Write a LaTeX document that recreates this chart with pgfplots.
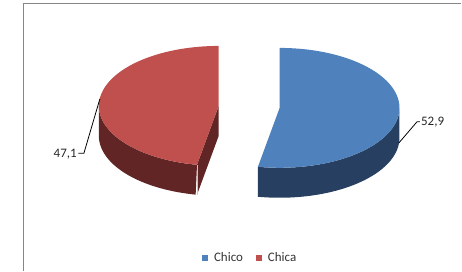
\documentclass[border=0pt]{standalone}
\usepackage{fontspec}
\setmainfont{Carlito}
\usepackage{pgfplots}
\usepackage{pgfplotstable}
\pgfplotsset{compat=1.18}
\definecolor{blueTop}{RGB}{79,129,189}
\definecolor{blueSide}{RGB}{39,64,97}
\definecolor{redTop}{RGB}{192,80,77}
\definecolor{redSide}{RGB}{96,37,36}
\definecolor{frameGray}{RGB}{134,134,134}
\pgfplotstableread{
label value
Chico 52.9
Chica 47.1
}\piedata
\begin{document}
\begin{tikzpicture}
\pgfplotstablegetelem{0}{value}\of\piedata
\let\vA\pgfplotsretval
\pgfplotstablegetelem{1}{value}\of\piedata
\let\vB\pgfplotsretval
\pgfmathsetmacro\endA{90-3.6*\vA}
\pgfmathsetmacro\endB{90+3.6*\vB}
\pgfmathsetmacro\LA{0-\endA}
\pgfmathsetmacro\LB{\endB-180}
\pgfmathsetmacro\rex{219+120*cos(\endB)}
\pgfmathsetmacro\rey{106-60*sin(\endB)}
\pgfmathsetmacro\reyb{\rey+30}
\begin{axis}[
  scale only axis, width=462bp, height=271bp,
  xmin=0, xmax=462, ymin=0, ymax=271, y dir=reverse,
  hide axis, clip=false,
  legend columns=2,
  legend style={draw=none, fill=none, at={(axis cs:250.5,258)}, anchor=center,
    font=\fontsize{13bp}{15bp}\selectfont, text=black!80,
    /tikz/every odd column/.append style={column sep=4bp},
    /tikz/every even column/.append style={column sep=11bp}},
  legend image code/.code={\fill[#1] (0bp,-3bp) rectangle (6bp,3bp);},
]
\addplot[draw=none, forget plot] coordinates {(0,0) (462,271)};
% frame
\addplot[draw=frameGray, line width=1.2bp, forget plot] coordinates {(23.5,271) (23.5,3.5) (462,3.5)};
% blue side
\addplot[fill=blueSide, draw=none, forget plot, domain=0:2*\LA, samples=241, variable=\t]
  ({280+120*cos(\endA+min(\t,2*\LA-\t))}, {108-60*sin(\endA+min(\t,2*\LA-\t))+30*(\t>\LA)});
% blue top
\addplot[fill=blueTop, draw=none, domain=\endA:90, samples=181]
  ({280+120*cos(x)}, {108-60*sin(x)}) -- (280,108) -- cycle;
\addlegendentry{Chico}
% red cut face
\addplot[fill=redSide, draw=none, forget plot] coordinates {(219,106) (\rex,\rey) (\rex,\reyb) (219,136)} -- cycle;
% red side
\addplot[fill=redSide, draw=none, forget plot, domain=0:2*\LB, samples=241, variable=\t]
  ({219+120*cos(180+min(\t,2*\LB-\t))}, {106-60*sin(180+min(\t,2*\LB-\t))+30*(\t>\LB)});
\addplot[draw=redTop!40!white, line width=0.6bp, forget plot] coordinates {(\rex,\rey) (\rex,\reyb)};
% red top
\addplot[fill=redTop, draw=none, domain=90:\endB, samples=181]
  ({219+120*cos(x)}, {106-60*sin(x)}) -- (219,106) -- cycle;
\addlegendentry{Chica}
% leader lines
\addplot[black, line width=0.8bp, forget plot] coordinates {(399.5,143) (417.5,122) (420.5,122)};
\addplot[black, line width=0.8bp, forget plot] coordinates {(100,99) (84,153.5) (78.5,153.5)};
\node[anchor=west, inner sep=0pt, font=\fontsize{13bp}{15bp}\selectfont, text=black!85] at (421.5,122) {52,9};
\node[anchor=east, inner sep=0pt, font=\fontsize{13bp}{15bp}\selectfont, text=black!85] at (77,154) {47,1};
\end{axis}
\end{tikzpicture}
\end{document}
